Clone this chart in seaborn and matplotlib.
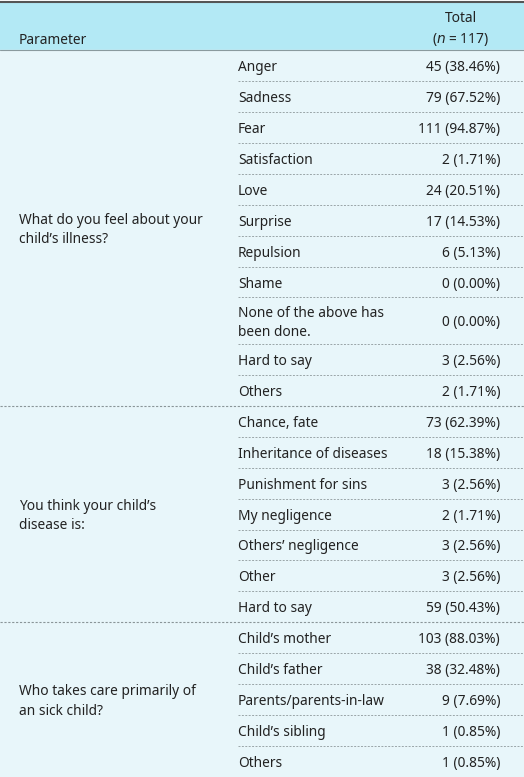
import numpy as np
import seaborn as sns
import matplotlib.pyplot as plt

sns.set_theme(style="white")
plt.rcParams["font.family"] = ["Noto Sans", "DejaVu Sans"]

# ============ table data ============
questions = [
    "What do you feel about your\nchild\u2019s illness?",
    "You think your child\u2019s\ndisease is:",
    "Who takes care primarily of\nan sick child?",
]
items = [
    ["Anger", "Sadness", "Fear", "Satisfaction", "Love", "Surprise", "Repulsion",
     "Shame", "None of the above has\nbeen done.", "Hard to say", "Others"],
    ["Chance, fate", "Inheritance of diseases", "Punishment for sins", "My negligence",
     "Others\u2019 negligence", "Other", "Hard to say"],
    ["Child\u2019s mother", "Child\u2019s father", "Parents/parents-in-law",
     "Child\u2019s sibling", "Others"],
]
counts = [
    [45, 79, 111, 2, 24, 17, 6, 0, 0, 3, 2],
    [73, 18, 3, 2, 3, 3, 59],
    [103, 38, 9, 1, 1],
]
percents = [
    ["38.46", "67.52", "94.87", "1.71", "20.51", "14.53", "5.13", "0.00", "0.00", "2.56", "1.71"],
    ["62.39", "15.38", "2.56", "1.71", "2.56", "2.56", "50.43"],
    ["88.03", "32.48", "7.69", "0.85", "0.85"],
]

W, H = 524, 777
head_top, head_bot = 2, 50
unit = (H - head_bot) / 23.5
fs = 9.9
tc = "#222222"

fig = plt.figure(figsize=(W / 100, H / 100), dpi=100)
ax = fig.add_axes([0, 0, 1, 1])
ax.set_xlim(0, W)
ax.set_ylim(H, 0)
ax.axis("off")

ax.axhspan(head_top, head_bot, color="#b3e9f5", zorder=0)
ax.axhspan(head_bot, H, color="#e8f6fa", zorder=0)
ax.axhline(head_top, color="#555555", lw=1.5)
ax.axhline(head_bot, color="#8a9a9e", lw=0.8)
ax.text(19, 40, "Parameter", fontsize=fs, va="center", color=tc)
ax.text(461, 19, "Total", fontsize=fs, va="center", ha="center", color=tc)
ax.text(461, 40, r"($n$ = 117)", fontsize=fs, va="center", ha="center", color=tc)

y = head_bot
for g, (q, its, cs, ps) in enumerate(zip(questions, items, counts, percents)):
    g_top = y
    for k, (it, c, p) in enumerate(zip(its, cs, ps)):
        h = unit * (1.5 if "\n" in it else 1)
        yc = y + h / 2 + 2
        ax.text(238, yc, it, fontsize=fs, va="center", color=tc, linespacing=1.35)
        ax.text(500, yc, f"{c} ({p}%)", fontsize=fs, va="center", ha="right", color=tc)
        y += h
        if k < len(its) - 1:
            ax.plot([238, W], [y, y], color="#9aa5a8", lw=0.7, ls=(0, (2, 1.5)))
    ax.text(19, (g_top + y) / 2 + 2, q, fontsize=fs, va="center", color=tc, linespacing=1.4)
    if g < len(questions) - 1:
        ax.plot([0, W], [y, y], color="#8a9598", lw=0.8, ls=(0, (2, 1.5)))

fig.savefig("out.png", dpi=100)
